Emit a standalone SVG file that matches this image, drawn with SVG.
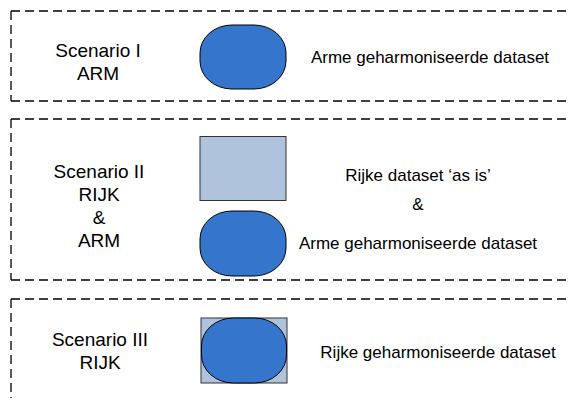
<svg xmlns="http://www.w3.org/2000/svg" width="571" height="400" viewBox="0 0 571 400">
<style>
.frame{fill:none;stroke:#000;stroke-width:1.3;stroke-dasharray:9 5}
.oval{fill:#3575cc;stroke:#000;stroke-width:1}
.sq{fill:#b0c3dc;stroke:#333;stroke-width:1}
.lbl{font-family:"Liberation Sans",Arial,sans-serif;font-size:19px;fill:#000;text-anchor:middle}
.txt{font-family:"Liberation Sans",Arial,sans-serif;font-size:17px;fill:#000;text-anchor:middle}
</style>
<rect width="571" height="400" fill="#fff"/>
<g id="scenario1">
<path class="frame" d="M11 11 H580 M11 11 V101 M11 101 H580"/>
<text class="lbl" x="98" y="57">Scenario I</text>
<text class="lbl" x="98" y="80">ARM</text>
<rect id="arm1" class="oval" x="200" y="25" width="86" height="64" rx="32" ry="28"/>
<text class="txt" x="430" y="63">Arme geharmoniseerde dataset</text>
</g>
<g id="scenario2">
<path class="frame" d="M11 119 H580 M11 119 V280 M11 280 H580"/>
<text class="lbl" x="99" y="178">Scenario II</text>
<text class="lbl" x="99" y="201">RIJK</text>
<text class="lbl" x="99" y="224">&amp;</text>
<text class="lbl" x="99" y="247">ARM</text>
<rect id="rijk2" class="sq" x="200" y="136.5" width="86" height="64"/>
<rect id="arm2" class="oval" x="200" y="211" width="86" height="65" rx="32" ry="28"/>
<text class="txt" x="418" y="181">Rijke dataset ‘as is’</text>
<text class="txt" x="418" y="210">&amp;</text>
<text class="txt" x="418" y="249">Arme geharmoniseerde dataset</text>
</g>
<g id="scenario3">
<path class="frame" d="M11 299 H580 M11 299 V398"/>
<text class="lbl" x="100" y="346">Scenario III</text>
<text class="lbl" x="100" y="369">RIJK</text>
<rect id="rijk3" class="sq" x="201" y="318" width="86" height="65"/>
<rect id="arm3" class="oval" x="201.5" y="318" width="85" height="65" rx="32" ry="28"/>
<text class="txt" x="438" y="358">Rijke geharmoniseerde dataset</text>
</g>
</svg>
